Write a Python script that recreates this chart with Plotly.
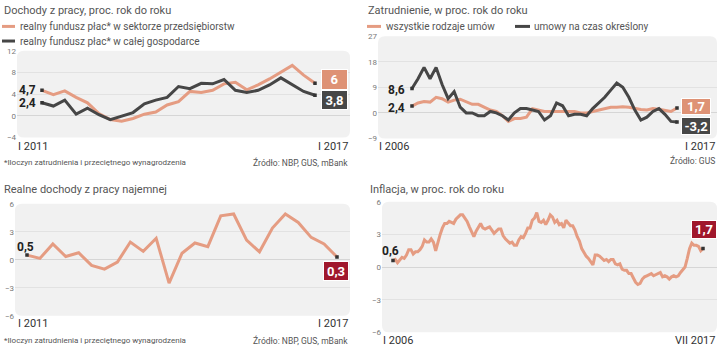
import plotly.graph_objects as go

W, H = 720, 351
FONT = "Roboto, Liberation Sans, sans-serif"

# ---------------- data ----------------
# Panel 1: Dochody z pracy (quarterly, I 2011 - I 2017)
p1_orange = [4.7, 3.9, 4.6, 3.4, 2.4, 0.4, -0.7, -1.0, -0.5, 0.3, 0.7, 2.0,
             2.6, 4.5, 4.3, 4.7, 5.9, 6.2, 4.8, 5.7, 6.8, 8.0, 9.3, 7.5, 6.0]
p1_dark = [2.4, 1.8, 2.9, 0.3, 1.4, 0.2, -0.7, 0.0, 0.6, 2.2, 2.9, 3.4,
           5.4, 5.0, 6.0, 5.9, 6.7, 4.7, 4.3, 4.7, 5.7, 7.0, 5.7, 4.5, 3.8]
p1_yticks = [-4, 0, 4, 8, 12]

# Panel 2: Zatrudnienie (quarterly, I 2006 - I 2017)
p2_orange = [2.4, 3.5, 4.0, 3.8, 5.5, 5.0, 3.8, 4.5, 4.8, 4.0, 3.0, 3.0,
             2.0, 1.0, 0.5, -1.0, -3.0, -2.0, -2.0, -1.5, 1.5, 1.0, 0.5, 0.5,
             0.5, 0.5, 0.5, 0.5, 0.0, 0.0, 0.5, 1.0, 1.5, 2.0, 2.0, 2.2,
             2.0, 1.5, 1.2, 1.0, 1.5, 1.3, 0.8, 0.5, 1.7]
p2_dark = [8.6, 12.0, 16.0, 12.0, 16.0, 10.0, 5.0, 7.5, 2.0, 0.0, 0.0, -1.0,
           -1.0, 0.5, 0.0, -1.0, -2.5, 0.0, 1.5, 1.5, 1.0, 0.5, -2.5, -1.0,
           3.5, 2.5, -1.0, -0.5, -0.5, -1.0, 1.5, 3.5, 5.5, 8.0, 10.5, 9.0,
           5.5, 1.0, -2.5, -1.5, 0.5, 1.5, -0.5, -3.0, -3.2]
p2_yticks = [-9, 0, 9, 18, 27]

# Panel 3: Realne dochody z pracy najemnej (quarterly, I 2011 - I 2017)
p3_values = [0.5, 0.15, 1.7, 0.35, 0.75, -0.6, -1.0, -0.25, 1.9, 0.9, 2.3, -2.5,
             0.7, 1.8, 1.4, 4.7, 4.9, 2.1, 0.85, 3.4, 4.9, 4.0, 2.4, 1.7, 0.3]
p3_yticks = [-6, -3, 0, 3, 6]

# Panel 4: Inflacja (monthly, I 2006 - VII 2017)
p4_values = [
    0.6, 0.7, 0.4, 0.7, 0.9, 0.8, 1.1, 1.6, 1.6, 1.2, 1.4, 1.4,
    1.6, 1.9, 2.5, 2.3, 2.3, 2.6, 2.3, 1.5, 2.3, 3.0, 3.6, 4.0,
    4.0, 4.2, 4.1, 4.0, 4.4, 4.6, 4.8, 4.8, 4.5, 4.2, 3.7, 3.3,
    2.8, 3.3, 3.6, 4.0, 3.6, 3.5, 3.6, 3.7, 3.4, 3.1, 3.3, 3.5,
    3.5, 2.9, 2.6, 2.4, 2.2, 2.3, 2.0, 2.0, 2.5, 2.8, 2.7, 3.1,
    3.6, 3.6, 4.3, 4.5, 5.0, 4.2, 4.1, 4.3, 3.9, 4.3, 4.8, 4.6,
    4.1, 4.3, 3.9, 4.0, 3.6, 4.3, 4.0, 3.8, 3.8, 3.4, 2.8, 2.4,
    1.7, 1.3, 1.0, 0.8, 0.5, 0.2, 1.1, 1.1, 1.0, 0.8, 0.6, 0.7,
    0.5, 0.7, 0.7, 0.3, 0.2, 0.3, -0.2, -0.3, -0.3, -0.6, -0.6, -1.0,
    -1.4, -1.6, -1.5, -1.1, -0.9, -0.8, -0.7, -0.6, -0.8, -0.7, -0.6, -0.5,
    -0.9, -0.8, -0.9, -1.1, -0.9, -0.8, -0.9, -0.8, -0.5, -0.2, 0.0, 0.8,
    1.7, 2.2, 2.0, 2.0, 1.9, 1.5, 1.7]
p4_yticks = [-6, -3, 0, 3, 6]

ORANGE = "#E59C82"
ORANGE_BOX = "#DE9275"
DARK = "#464646"
DARK_BOX = "#474747"
RED_BOX = "#A0172C"
BG = "#F1F1F1"
GRID = "#E2E2E2"
TXT = "#555555"


def px(x):
    return x / W


def py(y):
    return 1 - y / H


# panel geometry (pixels): bg box, data first/last x pixel, y range
panels = {
    1: dict(box=(17, 48, 350, 137), xd=(42, 315), n=len(p1_dark), yr=(-4, 12)),
    2: dict(box=(378, 33, 717, 138), xd=(412, 677), n=len(p2_dark), yr=(-9, 27)),
    3: dict(box=(15, 205, 350, 320), xd=(27, 337), n=len(p3_values), yr=(-6, 6)),
    4: dict(box=(382, 203, 717, 337), xd=(393, 703), n=len(p4_values), yr=(-6, 6)),
}
yticks = {1: p1_yticks, 2: p2_yticks, 3: p3_yticks, 4: p4_yticks}

fig = go.Figure()
layout = dict(width=W, height=H, margin=dict(l=0, r=0, t=0, b=0),
              paper_bgcolor="white", plot_bgcolor="rgba(0,0,0,0)",
              showlegend=False, font=dict(family=FONT, color=TXT))

shapes = []
for k, p in panels.items():
    x0, y0, x1, y1 = p["box"]
    d0, d1 = p["xd"]
    n = p["n"]
    step = (d1 - d0) / (n - 1)
    rng = [-(d0 - x0) / step, (n - 1) + (x1 - d1) / step]
    sfx = "" if k == 1 else str(k)
    layout["xaxis" + sfx] = dict(domain=[px(x0), px(x1)], range=rng, visible=False,
                                 anchor="y" + sfx, fixedrange=True)
    layout["yaxis" + sfx] = dict(domain=[py(y1), py(y0)], range=list(p["yr"]),
                                 anchor="x" + sfx, tickvals=yticks[k],
                                 showgrid=True, gridcolor=GRID, gridwidth=1,
                                 zeroline=True, zerolinecolor="#D6D6D6", zerolinewidth=1,
                                 showline=False, ticks="",
                                 tickfont=dict(size=8, color="#7A7A7A", family=FONT),
                                 fixedrange=True)
    r = 7
    bx0, by0, bx1, by1 = x0, y0, x1, y1
    path = (f"M {px(bx0+r)},{py(by0)} L {px(bx1-r)},{py(by0)} "
            f"Q {px(bx1)},{py(by0)} {px(bx1)},{py(by0+r)} "
            f"L {px(bx1)},{py(by1-r)} Q {px(bx1)},{py(by1)} {px(bx1-r)},{py(by1)} "
            f"L {px(bx0+r)},{py(by1)} Q {px(bx0)},{py(by1)} {px(bx0)},{py(by1-r)} "
            f"L {px(bx0)},{py(by0+r)} Q {px(bx0)},{py(by0)} {px(bx0+r)},{py(by0)} Z")
    shapes.append(dict(type="path", xref="paper", yref="paper", path=path,
                       fillcolor=BG, line=dict(width=0), layer="below"))


def add_line(vals, color, xa, ya):
    xs = list(range(len(vals)))
    fig.add_trace(go.Scatter(x=xs, y=vals, mode="lines",
                             line=dict(color=color, width=3),
                             xaxis=xa, yaxis=ya, hoverinfo="skip"))
    fig.add_trace(go.Scatter(x=[xs[0], xs[-1]], y=[vals[0], vals[-1]], mode="markers",
                             marker=dict(color="#333333", size=3.5, symbol="square"),
                             xaxis=xa, yaxis=ya, hoverinfo="skip"))


add_line(p1_orange, ORANGE, "x", "y")
add_line(p1_dark, DARK, "x", "y")
add_line(p2_orange, ORANGE, "x2", "y2")
add_line(p2_dark, DARK, "x2", "y2")
add_line(p3_values, ORANGE, "x3", "y3")
add_line(p4_values, ORANGE, "x4", "y4")

ann = []


def text(x, y, s, size=11, color=TXT, anchor="left", bold=False):
    ann.append(dict(xref="paper", yref="paper", x=px(x), y=py(y), text=(f"<b>{s}</b>" if bold else s),
                    showarrow=False, xanchor=anchor, yanchor="middle",
                    font=dict(size=size, color=color, family=FONT)))


def box(xc, yc, s, bg, w=24, h=17):
    ann.append(dict(xref="paper", yref="paper", x=px(xc), y=py(yc), text=f"<b>{s}</b>",
                    showarrow=False, xanchor="center", yanchor="middle",
                    width=w, height=h, bgcolor=bg, bordercolor="white", borderwidth=1,
                    borderpad=0, font=dict(size=13, color="white", family=FONT)))


def legline(x0, x1, y, color):
    shapes.append(dict(type="line", xref="paper", yref="paper", x0=px(x0), x1=px(x1),
                       y0=py(y), y1=py(y), line=dict(color=color, width=3)))


# Titles
text(2, 7, "Dochody z pracy, proc. rok do roku", 11)
text(366, 7, "Zatrudnienie, w proc. rok do roku", 11)
text(2, 190, "Realne dochody z pracy najemnej", 11)
text(368, 190, "Inflacja, w proc. rok do roku", 11)

# Legends
legline(2, 15, 23, ORANGE)
text(18, 23, "realny fundusz płac* w sektorze przedsiębiorstw", 10)
legline(2, 15, 38, DARK)
text(18, 38, "realny fundusz płac* w całej gospodarce", 10)
legline(367, 381, 23, ORANGE)
text(384, 23, "wszystkie rodzaje umów", 10)
legline(515, 530, 23, DARK)
text(532, 23, "umowy na czas określony", 10)

# x-axis end labels
XL = "#333333"
text(16, 146, "I 2011", 11, XL)
text(350, 146, "I 2017", 11, XL, anchor="right")
text(377, 146, "I 2006", 11, XL)
text(717, 146, "I 2017", 11, XL, anchor="right")
text(16, 328, "I 2011", 11, XL)
text(350, 328, "I 2017", 11, XL, anchor="right")
text(381, 345, "I 2006", 11, XL)
text(717, 345, "VII 2017", 11, XL, anchor="right")

# footnotes / sources
text(2, 163, "*Iloczyn zatrudnienia i przeciętnego wynagrodzenia", 8)
text(350, 163, "Źródło: NBP, GUS, mBank", 8.5, anchor="right")
text(717, 161, "Źródło: GUS", 8.5, anchor="right")
text(2, 345, "*Iloczyn zatrudnienia i przeciętnego wynagrodzenia", 8)
text(350, 345, "Źródło: NBP, GUS, mBank", 8.5, anchor="right")

# start value labels
LBL = "#222222"
text(38, 88, "4,7", 12, LBL, anchor="right", bold=True)
text(38, 102, "2,4", 12, LBL, anchor="right", bold=True)
text(407, 88, "8,6", 12, LBL, anchor="right", bold=True)
text(407, 107, "2,4", 12, LBL, anchor="right", bold=True)
text(36, 249, "0,5", 12, LBL, anchor="right", bold=True)
text(401, 253, "0,6", 12, LBL, anchor="right", bold=True)

# end value boxes
box(334, 77, "6", ORANGE_BOX, 25, 19)
box(334, 99, "3,8", DARK_BOX, 25, 18)
box(696, 105, "1,7", ORANGE_BOX, 28, 15)
box(696, 125, "-3,2", DARK_BOX, 28, 16)
box(336, 274, "0,3", RED_BOX, 24, 18)
box(704, 231, "1,7", RED_BOX, 24, 17)

layout["annotations"] = ann
layout["shapes"] = shapes
fig.update_layout(**layout)
fig.write_html("out.html")
